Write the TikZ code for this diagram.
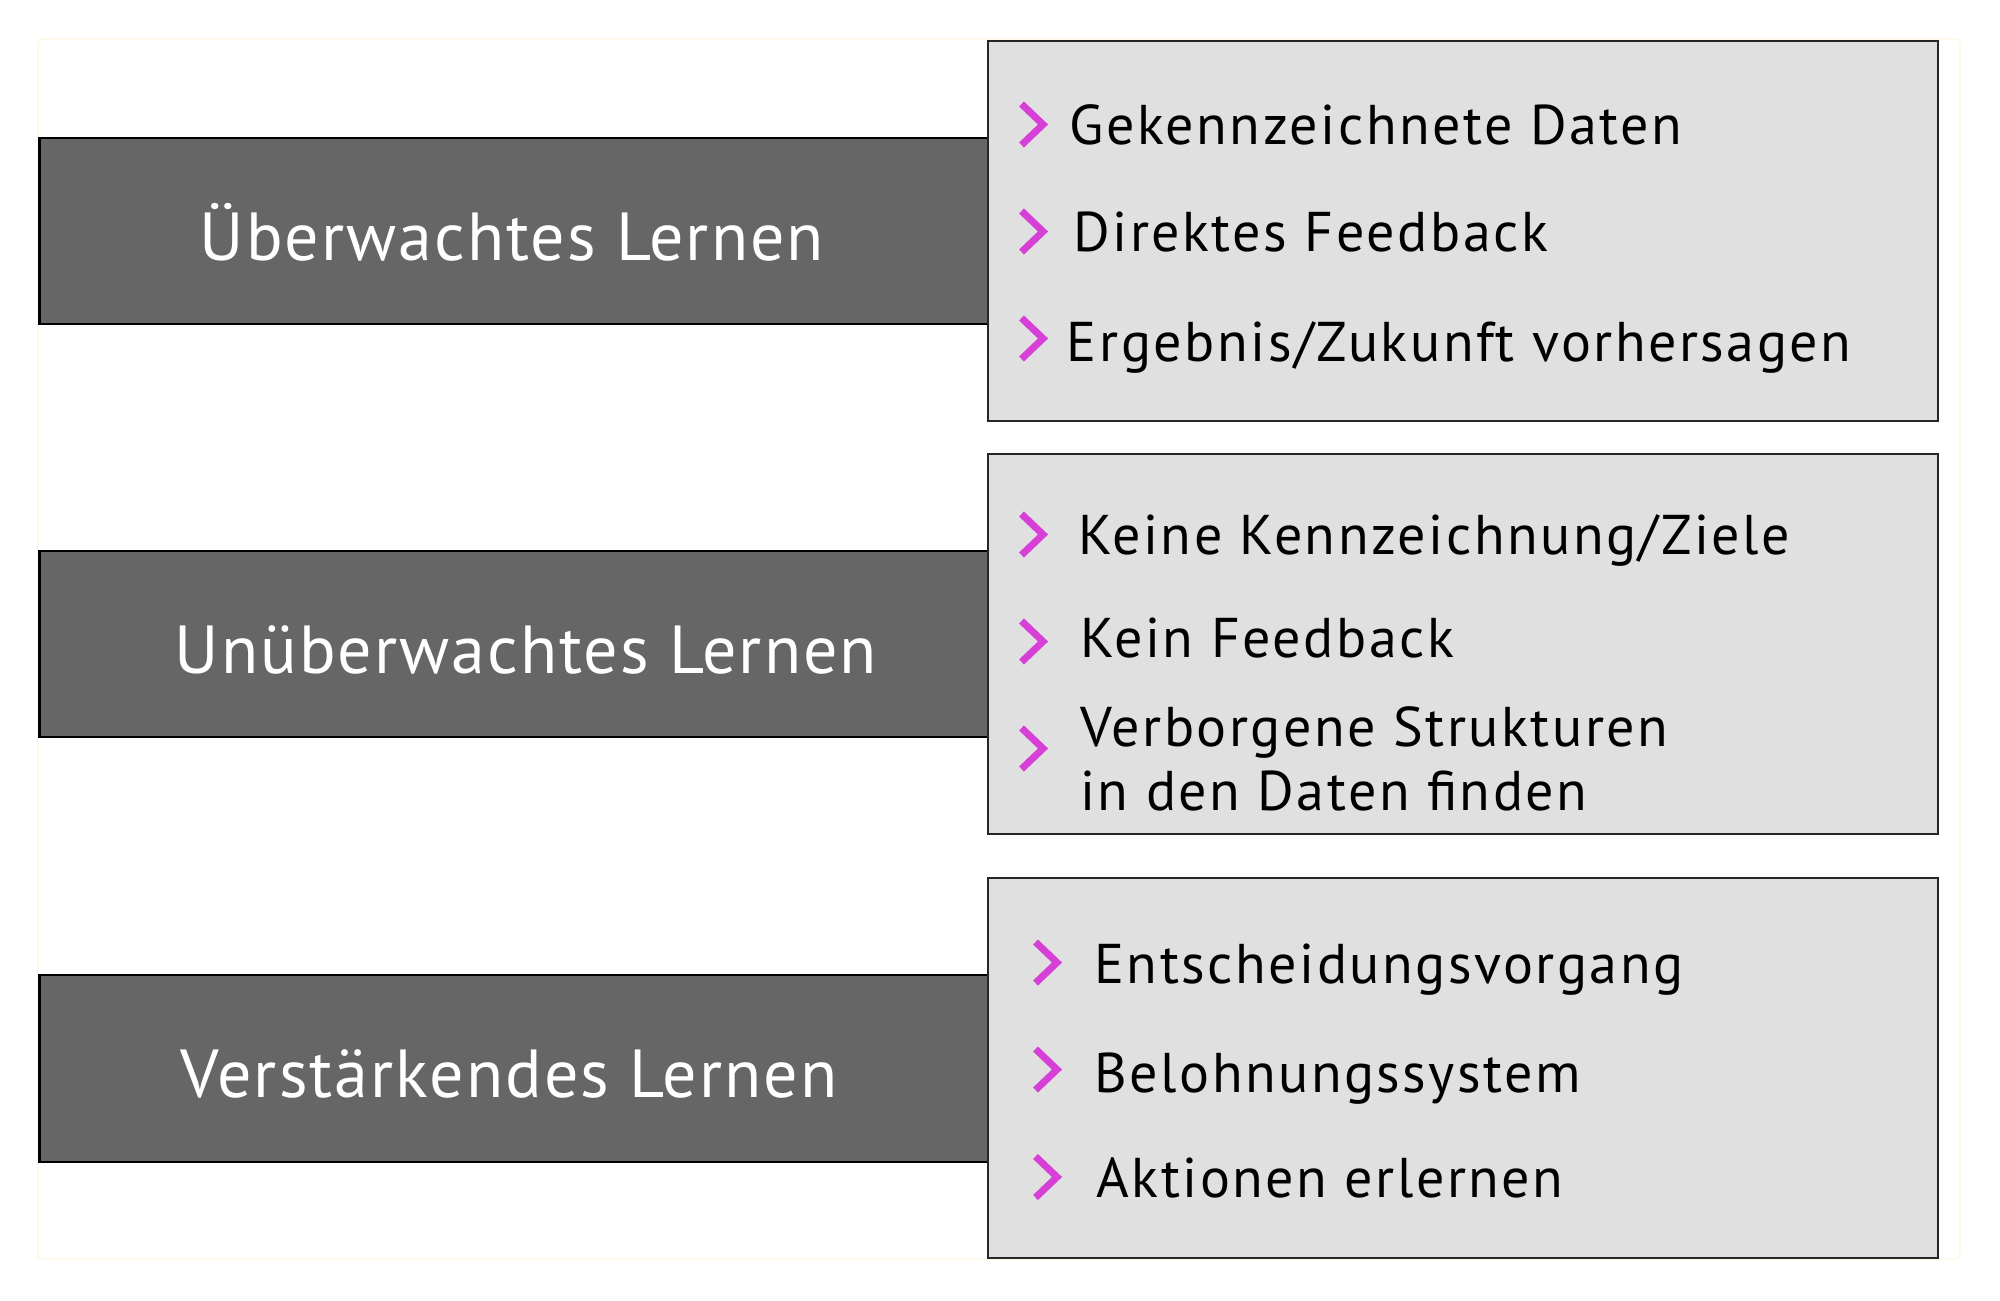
\documentclass[tikz,border=0pt]{standalone}
\usepackage{fontspec}
\setmainfont{PT Sans}
\newfontfamily\headfont[LetterSpace=3]{PT Sans}
\newfontfamily\itemfont[LetterSpace=4.5]{PT Sans}
\definecolor{darkfill}{RGB}{102,102,102}
\definecolor{lightfill}{RGB}{224,224,224}
\definecolor{chevcol}{RGB}{214,64,214}
\definecolor{framecol}{RGB}{255,246,226}
\begin{document}
\begin{tikzpicture}[x=0.5pt,y=-0.5pt,
  darkbox/.style={draw=black,line width=1.2pt,fill=darkfill,inner sep=0pt,
    minimum width=474.25pt,minimum height=93pt},
  lightbox/.style={draw=black!85,line width=1.2pt,fill=lightfill,inner sep=0pt,
    minimum width=475pt,minimum height=190pt},
  headtext/.style={text=white,font=\headfont\fontsize{34pt}{40pt}\selectfont,inner sep=0pt,anchor=base},
  itemtext/.style={text=black,font=\itemfont\fontsize{28pt}{32pt}\selectfont,inner sep=0pt,anchor=base west},
  chevline/.style={draw=chevcol,line width=3.5pt,line join=miter,line cap=butt},
  chev/.pic={\draw[chevline] (-10.5,-20.5) -- (11,0) -- (-10.5,20.5);}
]
\useasboundingbox (0,0) rectangle (2000,1300);
\fill[white] (0,0) rectangle (2000,1300);
% faint outer frame
\node[draw=framecol,line width=0.6pt,rounded corners=2pt,inner sep=0pt,
  minimum width=961pt,minimum height=610pt] (frame) at (999,649) {};

% category bars
\node[darkbox] (b1) at (513.75,231) {};
\node[darkbox] (b2) at (513.75,644) {};
\node[darkbox,minimum height=93.5pt] (b3) at (513.75,1068.5) {};

% detail panels
\node[lightbox] (p1) at (1463,231) {};
\node[lightbox] (p2) at (1463,644) {};
\node[lightbox] (p3) at (1463,1068) {};

% category labels
\node[headtext] (h1) at (512,260) {Überwachtes Lernen};
\node[headtext] (h2) at (526,673) {Unüberwachtes Lernen};
\node[headtext] (h3) at (509,1097) {Verstärkendes Lernen};

% panel 1
\pic at (1032,124.5) {chev};
\pic at (1032,231.5) {chev};
\pic at (1032,338.5) {chev};
\node[itemtext] (a1) at (1069,145) {Gekennzeichnete Daten};
\node[itemtext] (a2) at (1073,251) {Direktes Feedback};
\node[itemtext] (a3) at (1066.5,361) {Ergebnis/Zukunft vorhersagen};

% panel 2
\pic at (1032,534.5) {chev};
\pic at (1032,641.5) {chev};
\pic at (1032,748.5) {chev};
\node[itemtext] (c1) at (1078,554) {Keine Kennzeichnung/Ziele};
\node[itemtext] (c2) at (1080,657) {Kein Feedback};
\node[itemtext] (c3) at (1080,746) {Verborgene Strukturen};
\node[itemtext] (c4) at (1080,810) {in den Daten finden};

% panel 3
\pic at (1046,962.5) {chev};
\pic at (1046,1069.5) {chev};
\pic at (1046,1177) {chev};
\node[itemtext] (d1) at (1094,983) {Entscheidungsvorgang};
\node[itemtext] (d2) at (1094,1092) {Belohnungssystem};
\node[itemtext] (d3) at (1096,1197) {Aktionen erlernen};
\end{tikzpicture}
\end{document}
